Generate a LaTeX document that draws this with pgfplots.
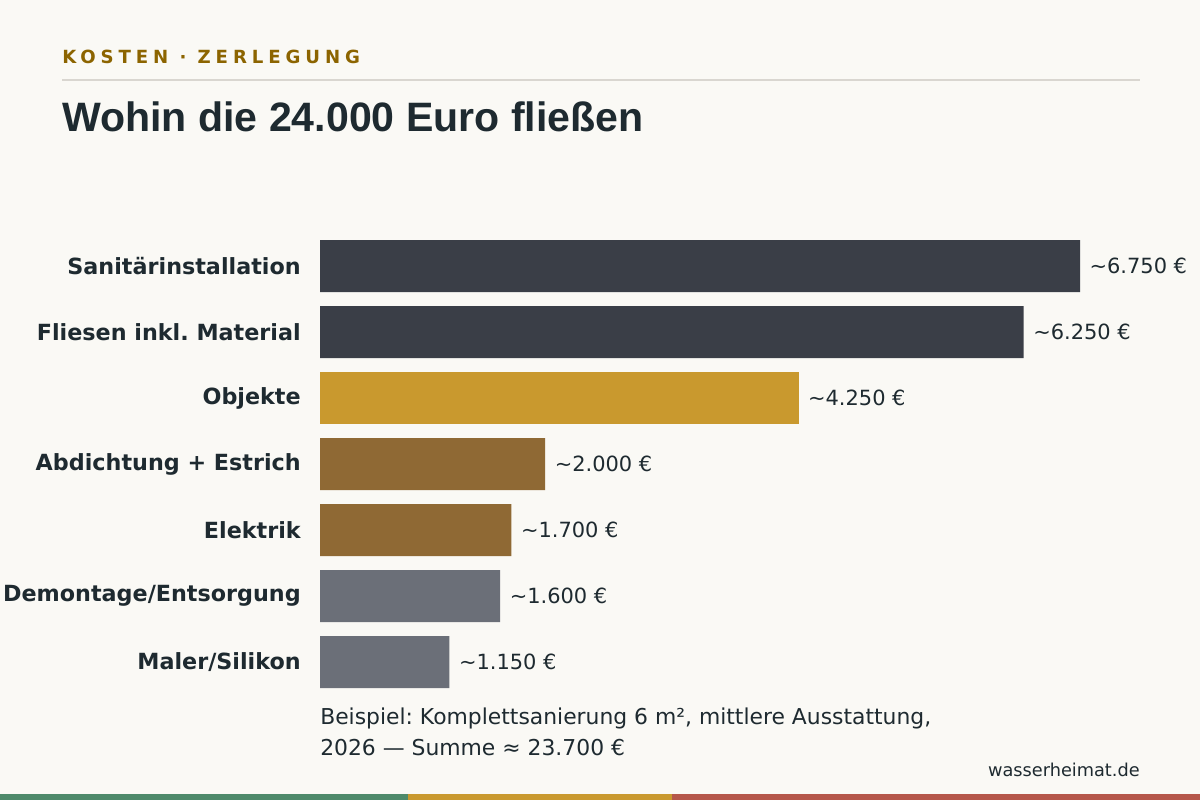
\documentclass[border=0pt]{standalone}
\usepackage{fontspec}
\setmainfont{DejaVu Sans}
\newfontfamily\titlefont{Liberation Sans}
\newfontfamily\headfont[LetterSpace=27]{DejaVu Sans}
\usepackage{pgfplots}
\pgfplotsset{compat=1.18}
\frenchspacing

\definecolor{bg}{HTML}{FAF9F5}
\definecolor{ink}{HTML}{1E2A30}
\definecolor{kicker}{HTML}{8C6400}
\definecolor{rulec}{HTML}{D9D6D0}
\definecolor{cdark}{HTML}{3A3E47}
\definecolor{cgold}{HTML}{C9992E}
\definecolor{cbrown}{HTML}{8F6934}
\definecolor{cgray}{HTML}{6B6F78}
\definecolor{sgreen}{HTML}{4E8A6A}
\definecolor{sred}{HTML}{B5574A}

\begin{document}
\begin{tikzpicture}[x=0.75pt,y=-0.75pt]
  % page background and header
  \fill[bg] (0,0) rectangle (1200,800);
  \node[anchor=base west, inner sep=0pt, text=kicker, font=\headfont\bfseries\fontsize{13.6}{16}\selectfont]
    at (62,63) {KOSTEN · ZERLEGUNG};
  \draw[rulec, line width=1.5pt] (62,80) -- (1140,80);
  \node[anchor=base west, inner sep=0pt, text=ink, font=\titlefont\bfseries\fontsize{30.8}{36}\selectfont]
    at (62,131) {Wohin die 24.000 Euro fließen};

  \begin{axis}[
      at={(240pt,-174.75pt)}, anchor=north west,
      scale only axis,
      width=570pt, height=346.5pt,
      xbar, bar shift=0pt, bar width=39pt,
      xmin=0, xmax=6750,
      ymin=-0.5, ymax=6.5, y dir=reverse,
      axis line style={draw=none},
      xtick=\empty,
      ytick={0,...,6},
      yticklabels={Sanitärinstallation, Fliesen inkl. Material, Objekte,
        Abdichtung + Estrich, Elektrik, Demontage/Entsorgung, Maler/Silikon},
      major tick length=0pt,
      yticklabel style={font=\bfseries\fontsize{16.7}{20}\selectfont, text=ink,
        anchor=east, inner sep=0pt, xshift=-14.25pt},
      point meta=explicit symbolic,
      nodes near coords,
      nodes near coords style={anchor=west, inner sep=0pt, xshift=7pt,
        font=\fontsize{15.7}{18}\selectfont, text=ink},
      clip=false,
    ]
    \addplot[fill=cdark, draw=none] coordinates {
      (6750,0) [{\textasciitilde 6.750 €}]
      (6250,1) [{\textasciitilde 6.250 €}]
    };
    \addplot[fill=cgold, draw=none] coordinates {
      (4250,2) [{\textasciitilde 4.250 €}]
    };
    \addplot[fill=cbrown, draw=none] coordinates {
      (2000,3) [{\textasciitilde 2.000 €}]
      (1700,4) [{\textasciitilde 1.700 €}]
    };
    \addplot[fill=cgray, draw=none] coordinates {
      (1600,5) [{\textasciitilde 1.600 €}]
      (1150,6) [{\textasciitilde 1.150 €}]
    };
  \end{axis}

  % note and source
  \node[anchor=base west, inner sep=0pt, text=ink, font=\fontsize{16.4}{20}\selectfont]
    at (320,724) {Beispiel: Komplettsanierung 6 m², mittlere Ausstattung,};
  \node[anchor=base west, inner sep=0pt, text=ink, font=\fontsize{16.4}{20}\selectfont]
    at (320,755) {2026 — Summe ≈ 23.700 €};
  \node[anchor=base east, inner sep=0pt, text=ink, font=\fontsize{13.3}{16}\selectfont]
    at (1140,776) {wasserheimat.de};

  % bottom colour strip
  \fill[sgreen] (0,794) rectangle (408,800);
  \fill[cgold] (408,794) rectangle (672,800);
  \fill[sred] (672,794) rectangle (1200,800);
\end{tikzpicture}
\end{document}
